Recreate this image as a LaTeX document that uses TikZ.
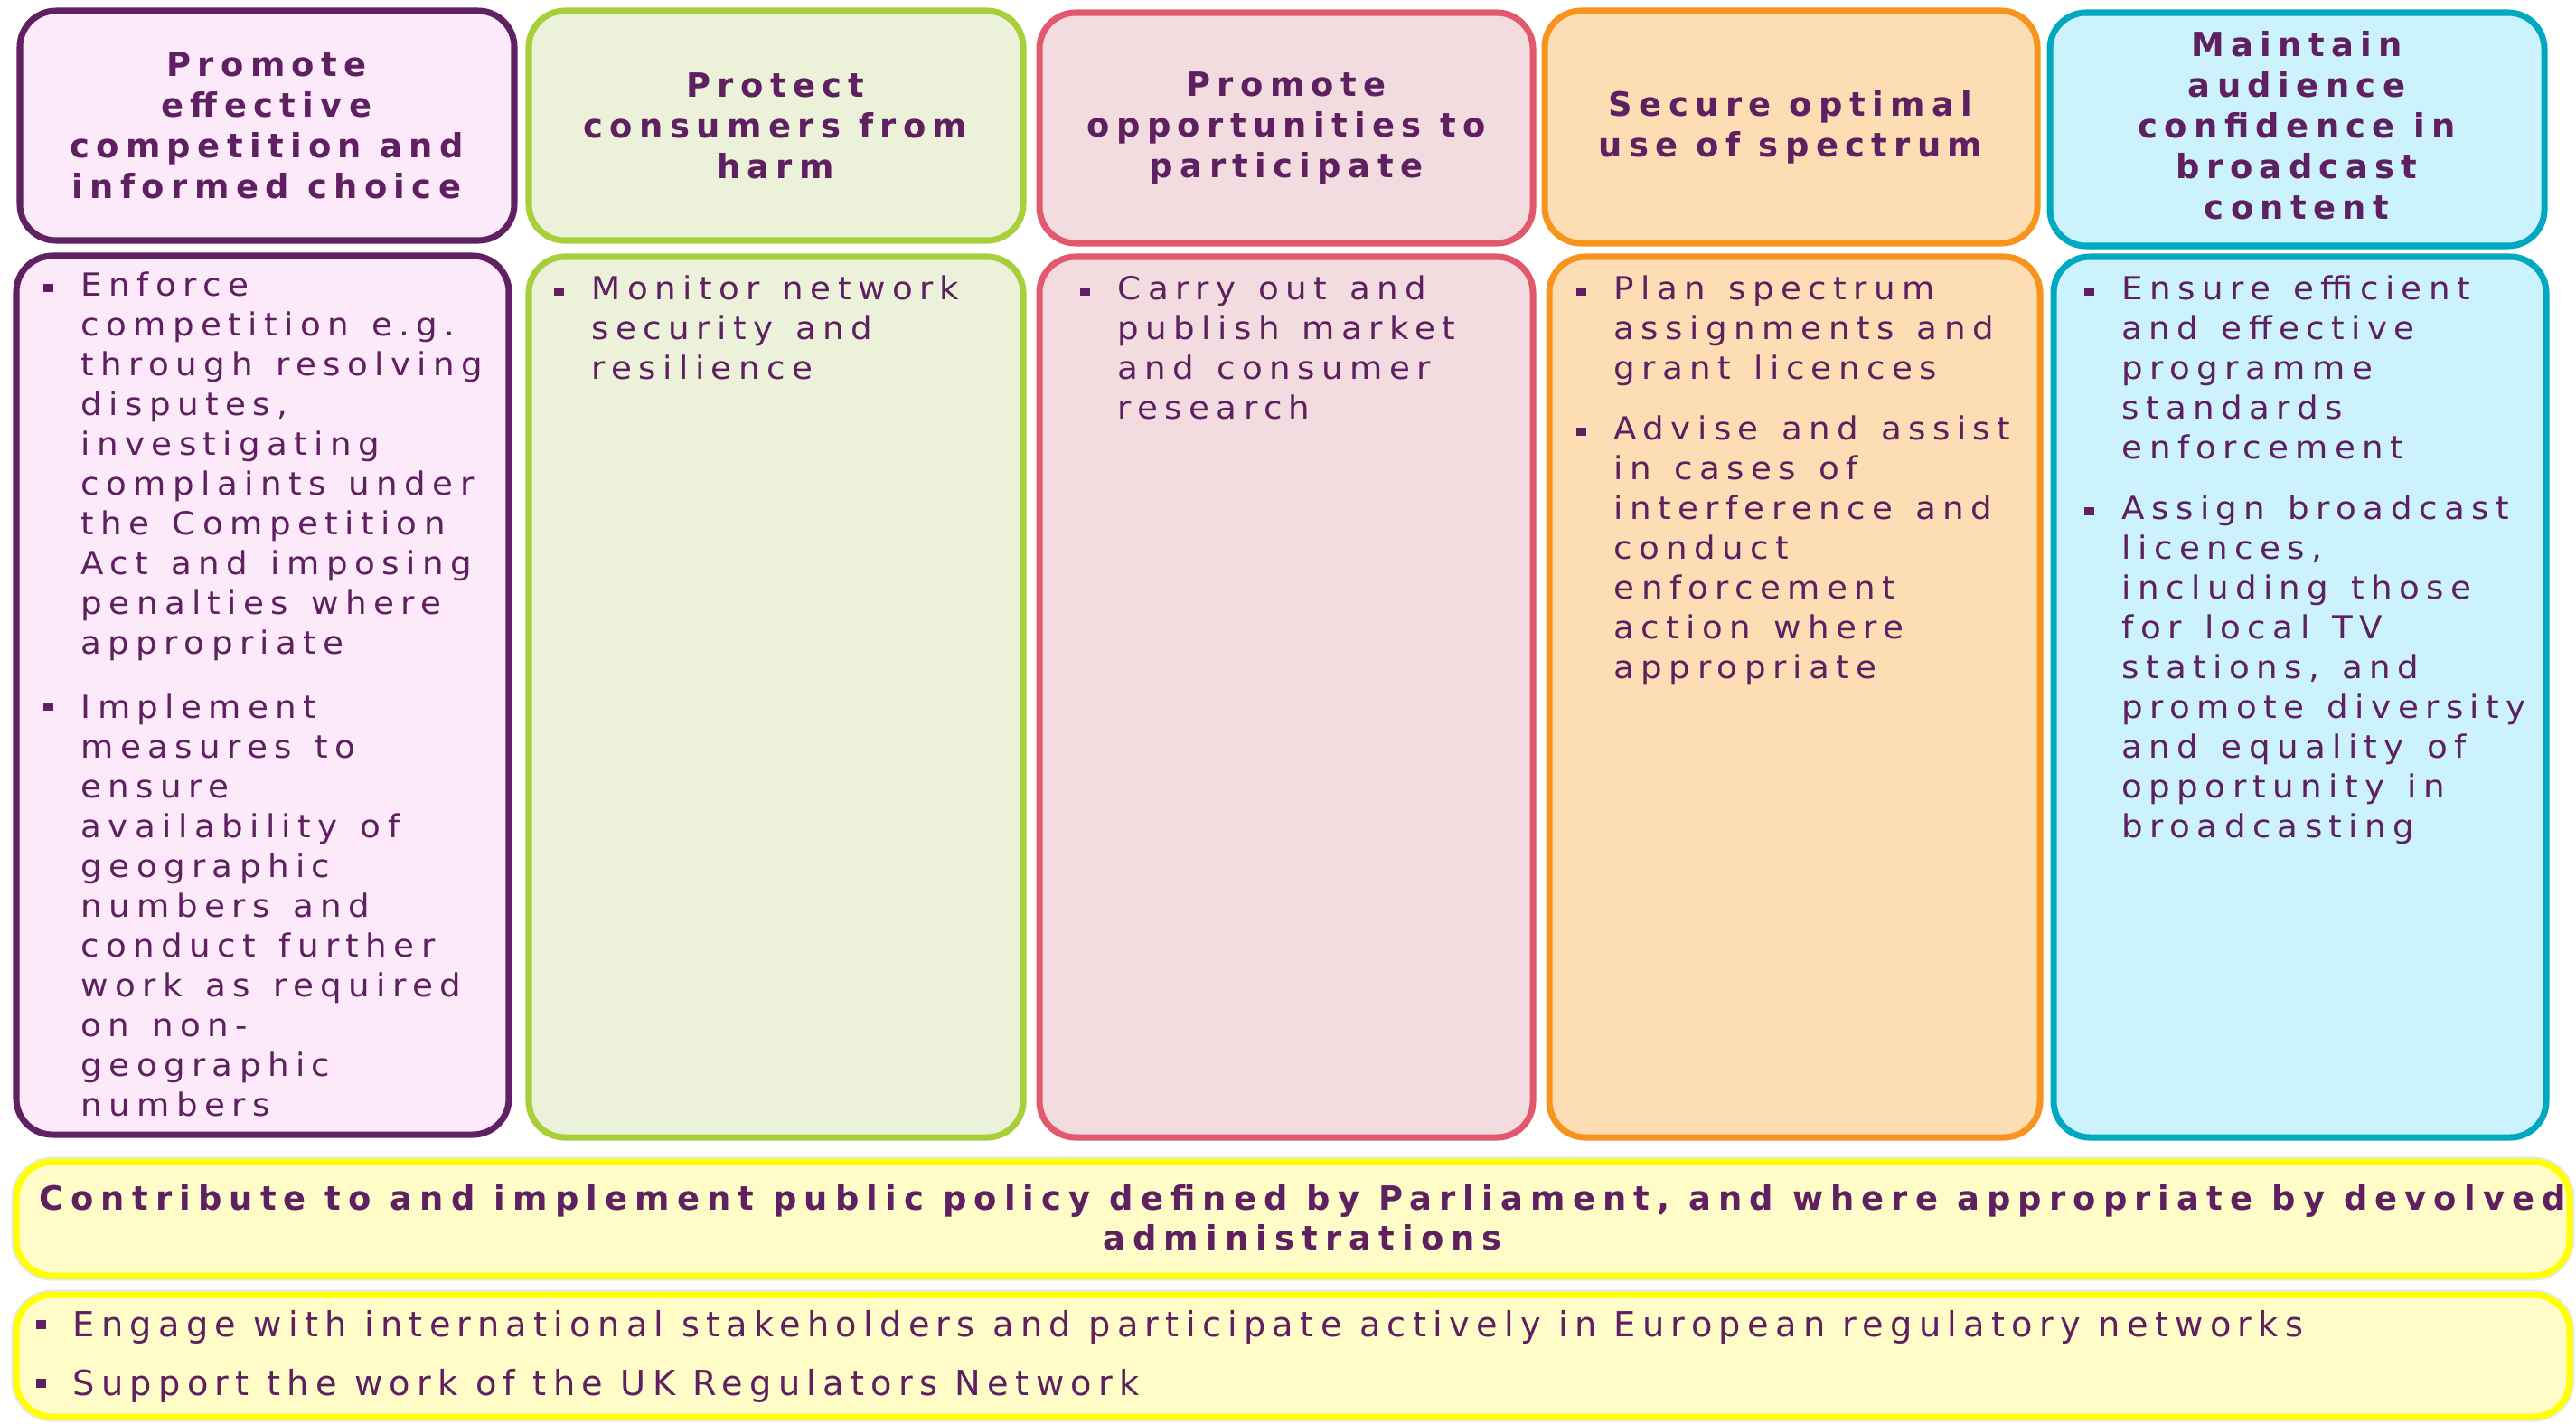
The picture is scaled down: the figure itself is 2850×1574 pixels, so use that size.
\documentclass[tikz,border=0pt]{standalone}
\usepackage{fontspec}
\setmainfont{DejaVu Sans}
\newfontfamily\bodyfont[LetterSpace=21,FakeStretch=1.06]{DejaVu Sans}
\newfontfamily\headfont[LetterSpace=20]{DejaVu Sans}
\newfontfamily\polfont[LetterSpace=22]{DejaVu Sans}
\newfontfamily\listfont[LetterSpace=19]{DejaVu Sans}
\newcommand\bstart{\spaceskip=0.72em\relax\strut}
\definecolor{txt}{HTML}{5E2060}
\definecolor{bPurple}{HTML}{5F2161}
\definecolor{fPurple}{HTML}{FCEAFA}
\definecolor{bGreen}{HTML}{A7CF3A}
\definecolor{fGreen}{HTML}{ECF2D9}
\definecolor{bRed}{HTML}{E2596D}
\definecolor{fRed}{HTML}{F2DCDF}
\definecolor{bOrange}{HTML}{F7941D}
\definecolor{fOrange}{HTML}{FDDDB4}
\definecolor{bTeal}{HTML}{00A9BF}
\definecolor{fTeal}{HTML}{CCF2FD}
\definecolor{bYellow}{HTML}{FFFF00}
\definecolor{fYellow}{HTML}{FFFCC8}
\tikzset{
  frame/.style={line width=2pt, rounded corners=4mm},
  halo/.style={draw=black!9, line width=3.2pt, rounded corners=4mm},
  head/.style={text=txt, font=\headfont\bfseries\fontsize{10.5}{12.8}\selectfont, align=center, inner sep=0pt},
  poltext/.style={text=txt, font=\polfont\bfseries\fontsize{10.5}{12.6}\selectfont, align=center, inner sep=0pt},
  body/.style={text=txt, font=\bodyfont\fontsize{10}{12.52}\selectfont, text width=60mm, align=left, inner sep=0pt, anchor=north west},
  listtext/.style={text=txt, font=\listfont\fontsize{10.9}{13}\selectfont, inner sep=0pt, anchor=base west},
  bul/.style={fill=txt},
}
\begin{document}
\begin{tikzpicture}[x=0.1mm,y=-0.1mm]
\clip (0,0) rectangle (2850,1574);
\fill[white] (0,0) rectangle (2850,1574);
% top row
\draw[frame, draw=bPurple, fill=fPurple] (22,12) rectangle (569,266);
\draw[frame, draw=bGreen, fill=fGreen] (585,12) rectangle (1132,266);
\draw[frame, draw=bRed, fill=fRed] (1150,14) rectangle (1696,269);
\draw[frame, draw=bOrange, fill=fOrange] (1709,12) rectangle (2254,269);
\draw[frame, draw=bTeal, fill=fTeal] (2268,14) rectangle (2815,272);
% body row
\draw[frame, draw=bPurple, fill=fPurple] (18,283) rectangle (563,1255);
\draw[frame, draw=bGreen, fill=fGreen] (585,284) rectangle (1132,1258);
\draw[frame, draw=bRed, fill=fRed] (1150,284) rectangle (1696,1258);
\draw[frame, draw=bOrange, fill=fOrange] (1714,284) rectangle (2257,1258);
\draw[frame, draw=bTeal, fill=fTeal] (2272,284) rectangle (2817,1258);
% bottom
\draw[halo] (18,1285) rectangle (2843,1411);
\draw[halo] (18,1432) rectangle (2843,1567);
\draw[frame, draw=bYellow, fill=fYellow] (18,1285) rectangle (2843,1411);
\draw[frame, draw=bYellow, fill=fYellow] (18,1432) rectangle (2843,1567);
% headings
\node[head] (h1) at (295,139) {Promote\\effective\\competition and\\informed choice};
\node[head] (h2) at (858,139) {Protect\\consumers from\\harm};
\node[head] (h3) at (1423,142) {Promote\\opportunities to\\participate};
\node[head] (h4) at (1981,141) {Secure optimal\\use of spectrum};
\node[head] (h5) at (2541,139) {Maintain\\audience\\confidence in\\broadcast\\content};
% body texts
\node[body] (t1a) at (89,296) {\bstart Enforce\\competition e.g.\\through resolving\\disputes,\\investigating\\complaints under\\the Competition\\Act and imposing\\penalties where\\appropriate};
\node[body] (t1b) at (89,763) {\bstart Implement\\measures to\\ensure\\availability of\\geographic\\numbers and\\conduct further\\work as required\\on non-\\geographic\\numbers};
\node[body] (t2a) at (654,300) {\bstart Monitor network\\security and\\resilience};
\node[body] (t3a) at (1236,300) {\bstart Carry out and\\publish market\\and consumer\\research};
\node[body] (t4a) at (1785,300) {\bstart Plan spectrum\\assignments and\\grant licences};
\node[body] (t4b) at (1785,455) {\bstart Advise and assist\\in cases of\\interference and\\conduct\\enforcement\\action where\\appropriate};
\node[body] (t5a) at (2347,300) {\bstart Ensure efficient\\and effective\\programme\\standards\\enforcement};
\node[body] (t5b) at (2347,543) {\bstart Assign broadcast\\licences,\\including those\\for local TV\\stations, and\\promote diversity\\and equality of\\opportunity in\\broadcasting};
% bullets
\fill[bul] (48,314) rectangle ++(11,9);
\fill[bul] (48,777) rectangle ++(11,9);
\fill[bul] (613,318) rectangle ++(11,9);
\fill[bul] (1195,318) rectangle ++(11,9);
\fill[bul] (1744,318) rectangle ++(11,9);
\fill[bul] (1744,473) rectangle ++(11,9);
\fill[bul] (2306,318) rectangle ++(11,9);
\fill[bul] (2306,561) rectangle ++(11,9);
% policy
\node[poltext] (pol) at (1441,1347) {Contribute to and implement public policy defined by Parliament, and where appropriate by devolved\\administrations};
\node[listtext] (l1) at (80,1478) {Engage with international stakeholders and participate actively in European regulatory networks};
\node[listtext] (l2) at (80,1543) {Support the work of the UK Regulators Network};
\fill[bul] (40,1460) rectangle ++(11,10);
\fill[bul] (40,1525) rectangle ++(11,10);
\end{tikzpicture}
\end{document}
